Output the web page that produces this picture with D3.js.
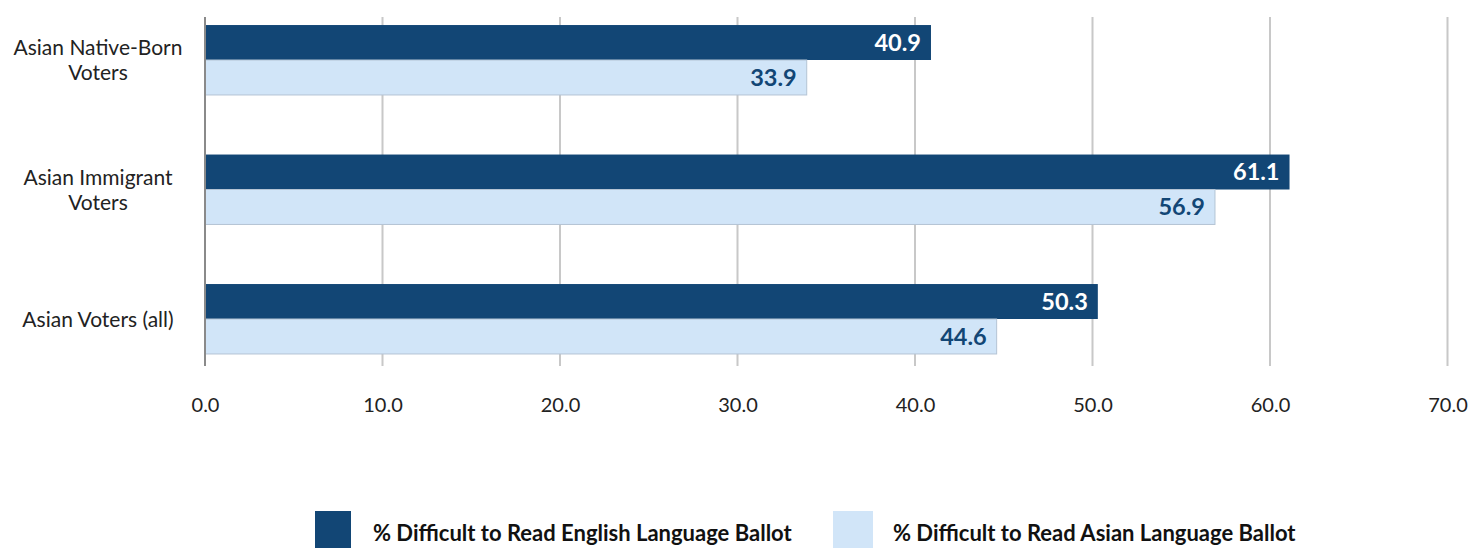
<!DOCTYPE html>
<html><head><meta charset="utf-8">
<script src="https://cdn.jsdelivr.net/npm/d3@7"></script>
<style>body{margin:0;background:#fff;} svg{display:block;font-family:Lato,"Open Sans",sans-serif;}</style>
</head><body>
<script>
const categories = [["Asian Native-Born","Voters"],["Asian Immigrant","Voters"],["Asian Voters (all)"]];
const seriesNames = ["% Difficult to Read English Language Ballot","% Difficult to Read Asian Language Ballot"];
const englishValues = [40.9, 61.1, 50.3];
const asianValues = [33.9, 56.9, 44.6];
const tickValues = [0,10,20,30,40,50,60,70];
const colors = ["#124675","#d1e5f8"];

const W=1472,H=548;
const svg=d3.select("body").append("svg").attr("width",W).attr("height",H);
const x=d3.scaleLinear().domain([0,70]).range([205,1447.5]);
const keys=categories.map(c=>c.join(" "));
const y=d3.scaleBand().domain(keys).range([-4.75,383.75]).paddingInner(0.46).paddingOuter(0.23);
const sub=d3.scaleBand().domain([0,1]).range([0,y.bandwidth()]);
const gridTop=17,gridBot=366;

// grid
svg.append("g").selectAll("line").data(tickValues.filter(d=>d>0)).join("line")
  .attr("x1",d=>x(d)).attr("x2",d=>x(d)).attr("y1",gridTop).attr("y2",gridBot)
  .attr("stroke","#c8c8c8").attr("stroke-width",2);

const data=keys.map((k,i)=>({k,vals:[englishValues[i],asianValues[i]]}));
const g=svg.append("g").selectAll("g").data(data).join("g").attr("transform",d=>`translate(0,${y(d.k)})`);
g.selectAll("rect").data(d=>d.vals.map((v,j)=>({v,j}))).join("rect")
  .attr("x",x(0)).attr("y",d=>sub(d.j)).attr("width",d=>x(d.v)-x(0)).attr("height",sub.bandwidth())
  .attr("fill",d=>colors[d.j])
  .attr("stroke",d=>d.j===1?"#b4c4d4":"none").attr("stroke-width",1);
g.selectAll("text").data(d=>d.vals.map((v,j)=>({v,j}))).join("text")
  .attr("x",d=>x(d.v)-10).attr("y",d=>sub(d.j)+sub.bandwidth()/2).attr("dy","0.36em")
  .attr("text-anchor","end").attr("font-size",23.5).attr("font-weight",700)
  .attr("fill",d=>d.j===0?"#ffffff":"#124675").text(d=>d.v.toFixed(1));

// axis line
svg.append("line").attr("x1",x(0)).attr("x2",x(0)).attr("y1",gridTop).attr("y2",gridBot)
  .attr("stroke","#8a8a8a").attr("stroke-width",2);

// x axis labels
const xa=svg.append("g").attr("transform","translate(0,412)")
  .call(d3.axisBottom(x).tickValues(tickValues).tickFormat(d3.format(".1f")).tickSize(0).tickPadding(0));
xa.select(".domain").remove();
xa.selectAll("text").attr("font-size",20).attr("fill","#222").attr("font-family","Lato,sans-serif").attr("dy",0);

// category labels
const cl=svg.append("g");
categories.forEach((lines,i)=>{
  const cy=y(keys[i])+y.bandwidth()/2;
  const lh=25;
  const t=cl.append("text").attr("text-anchor","middle").attr("font-size",21).attr("fill","#222");
  lines.forEach((ln,j)=>{
    t.append("tspan").attr("x",98).attr("y",cy+(j-(lines.length-1)/2)*lh).attr("dy","0.36em").text(ln);
  });
});

// legend
const legX=[315,833];
const lg=svg.append("g").selectAll("g").data(seriesNames).join("g");
lg.append("rect").attr("x",(d,i)=>legX[i]).attr("y",511).attr("width",(d,i)=>i===0?36:40).attr("height",37).attr("fill",(d,i)=>colors[i]);
lg.append("text").attr("x",(d,i)=>legX[i]+(i===0?58:60)).attr("y",541).attr("font-size",22).attr("font-weight",700).attr("fill","#111").text(d=>d);
</script>
</body></html>
